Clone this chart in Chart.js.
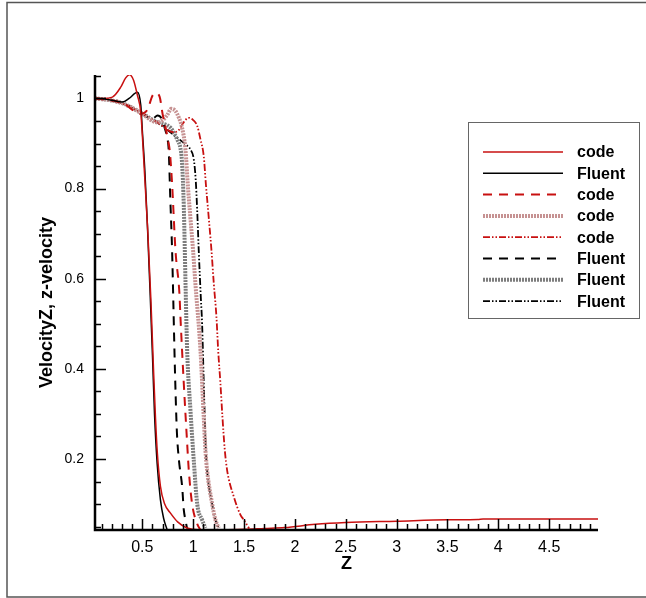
<!DOCTYPE html>
<html>
<head>
<meta charset="utf-8">
<script src="https://cdn.jsdelivr.net/npm/chart.js@4/dist/chart.umd.min.js"></script>
<style>
  html, body { margin: 0; padding: 0; background: #fff; }
  #wrap { width: 646px; height: 598px; position: relative; }
</style>
</head>
<body>
<div id="wrap"><canvas id="velChart" width="646" height="598"></canvas></div>
<script>
// axis ticks
const xTicks = [0.5, 1, 1.5, 2, 2.5, 3, 3.5, 4, 4.5];
const yTicks = [0.2, 0.4, 0.6, 0.8, 1];

// series: Z position and velocity
const codeSolidZ = [0.035, 0.108, 0.206, 0.288, 0.335, 0.375, 0.415, 0.452, 0.485, 0.50, 0.52, 0.555, 0.585, 0.61, 0.63, 0.648, 0.678, 0.72, 0.777, 0.85, 0.94, 1.05, 1.3, 1.5, 1.7, 1.9, 2.2, 2.5, 3.0, 3.5, 3.8, 3.85, 4.98];
const codeSolidV = [1.0, 1.0, 1.003, 1.025, 1.045, 1.053, 1.04, 1.007, 0.97, 0.92, 0.84, 0.70, 0.55, 0.40, 0.29, 0.213, 0.14, 0.10, 0.08, 0.06, 0.047, 0.043, 0.043, 0.044, 0.046, 0.048, 0.055, 0.059, 0.062, 0.065, 0.066, 0.067, 0.067];

const fluentSolidZ = [0.035, 0.076, 0.2, 0.305, 0.37, 0.452, 0.485, 0.50, 0.525, 0.55, 0.575, 0.60, 0.62, 0.646, 0.678, 0.71, 0.744];
const fluentSolidV = [1.0, 1.0, 0.996, 0.992, 1.0, 1.014, 0.985, 0.93, 0.84, 0.72, 0.58, 0.43, 0.30, 0.19, 0.11, 0.068, 0.043];

const codeDashZ = [0.035, 0.19, 0.32, 0.48, 0.55, 0.60, 0.63, 0.67, 0.70, 0.73, 0.75, 0.77, 0.793, 0.826, 0.865, 0.875, 0.908, 0.941, 0.957, 0.99, 1.04, 1.07];
const codeDashV = [1.0, 0.996, 0.988, 0.966, 0.975, 1.006, 1.012, 1.004, 0.965, 0.935, 0.91, 0.884, 0.81, 0.663, 0.567, 0.515, 0.367, 0.235, 0.175, 0.10, 0.056, 0.043];

const codeThickZ = [0.035, 0.19, 0.32, 0.48, 0.646, 0.70, 0.744, 0.785, 0.826, 0.858, 0.89, 0.924, 0.95, 0.973, 1.0, 1.022, 1.072, 1.104, 1.121, 1.137, 1.187, 1.219, 1.252];
const codeThickV = [1.0, 0.996, 0.988, 0.969, 0.947, 0.952, 0.963, 0.977, 0.972, 0.958, 0.936, 0.887, 0.80, 0.735, 0.66, 0.589, 0.441, 0.293, 0.219, 0.175, 0.10, 0.065, 0.047];

const codeDashDotZ = [0.035, 0.19, 0.32, 0.48, 0.646, 0.81, 0.86, 0.90, 0.955, 1.0, 1.04, 1.072, 1.104, 1.125, 1.153, 1.18, 1.203, 1.229, 1.246, 1.268, 1.288, 1.311, 1.334, 1.40, 1.465, 1.498, 1.55];
const codeDashDotV = [1.0, 0.996, 0.988, 0.969, 0.947, 0.925, 0.93, 0.945, 0.957, 0.952, 0.939, 0.909, 0.872, 0.81, 0.736, 0.663, 0.589, 0.515, 0.441, 0.368, 0.293, 0.22, 0.175, 0.116, 0.076, 0.065, 0.046];

const fluentDashZ = [0.035, 0.19, 0.32, 0.48, 0.60, 0.65, 0.69, 0.72, 0.744, 0.76, 0.775, 0.793, 0.805, 0.816, 0.828, 0.84, 0.859, 0.892, 0.908, 0.924, 0.94];
const fluentDashV = [1.0, 0.996, 0.988, 0.969, 0.955, 0.962, 0.955, 0.935, 0.913, 0.884, 0.78, 0.662, 0.55, 0.441, 0.34, 0.26, 0.20, 0.138, 0.087, 0.065, 0.046];

const fluentThickZ = [0.035, 0.19, 0.32, 0.48, 0.646, 0.777, 0.843, 0.875, 0.89, 0.908, 0.925, 0.941, 0.973, 0.99, 1.006, 1.04, 1.088, 1.12];
const fluentThickV = [1.0, 0.996, 0.988, 0.969, 0.947, 0.935, 0.909, 0.889, 0.86, 0.76, 0.589, 0.441, 0.31, 0.25, 0.197, 0.10, 0.065, 0.047];

const fluentDashDotZ = [0.035, 0.19, 0.32, 0.48, 0.646, 0.843, 0.924, 0.973, 1.006, 1.025, 1.04, 1.055, 1.075, 1.088, 1.104, 1.115, 1.125, 1.137, 1.187, 1.219, 1.252];
const fluentDashDotV = [1.0, 0.996, 0.988, 0.969, 0.947, 0.913, 0.898, 0.887, 0.865, 0.82, 0.75, 0.662, 0.56, 0.50, 0.37, 0.286, 0.219, 0.175, 0.10, 0.065, 0.047];

const seriesLabels = ['code', 'Fluent', 'code', 'code', 'code', 'Fluent', 'Fluent', 'Fluent'];

function pts(zs, vs) {
  return zs.map((z, i) => ({ x: z, y: vs[i] }));
}

const RED = 'rgb(200, 16, 16)';
const DASH_DOT = [7, 2, 1.5, 2, 1.5, 2];

const datasets = [
  { label: seriesLabels[0], data: pts(codeSolidZ, codeSolidV), borderColor: RED, borderWidth: 1.5, borderDash: [] },
  { label: seriesLabels[1], data: pts(fluentSolidZ, fluentSolidV), borderColor: '#000', borderWidth: 1.5, borderDash: [] },
  { label: seriesLabels[2], data: pts(codeDashZ, codeDashV), borderColor: RED, borderWidth: 2, borderDash: [9, 7] },
  { label: seriesLabels[3], data: pts(codeThickZ, codeThickV), borderColor: 'rgb(198, 146, 146)', borderWidth: 4, borderDash: [2, 1] },
  { label: seriesLabels[4], data: pts(codeDashDotZ, codeDashDotV), borderColor: RED, borderWidth: 1.8, borderDash: DASH_DOT },
  { label: seriesLabels[5], data: pts(fluentDashZ, fluentDashV), borderColor: '#000', borderWidth: 2, borderDash: [9, 7] },
  { label: seriesLabels[6], data: pts(fluentThickZ, fluentThickV), borderColor: 'rgb(125, 125, 125)', borderWidth: 4, borderDash: [2, 1] },
  { label: seriesLabels[7], data: pts(fluentDashDotZ, fluentDashDotV), borderColor: '#000', borderWidth: 1.8, borderDash: DASH_DOT },
].map((d) => ({
  ...d,
  showLine: true,
  pointRadius: 0,
  fill: false,
  cubicInterpolationMode: 'monotone',
}));

// outer frame + inward ticks + axis lines + legend box
const frameAndTicks = {
  id: 'frameAndTicks',
  beforeDraw(chart) {
    const { ctx } = chart;
    ctx.save();
    ctx.strokeStyle = '#555';
    ctx.lineWidth = 1.5;
    ctx.beginPath();
    ctx.moveTo(660, 2.5);
    ctx.lineTo(7, 2.5);
    ctx.lineTo(7, 597);
    ctx.lineTo(660, 597);
    ctx.stroke();
    ctx.restore();
  },
  afterDatasetsDraw(chart) {
    const { ctx, chartArea: { left, right, top, bottom }, scales: { x, y } } = chart;
    ctx.save();
    ctx.strokeStyle = '#000';
    ctx.lineWidth = 1.5;
    ctx.beginPath();
    // x ticks (minor every 0.1)
    for (let i = 1; i < 50; i++) {
      const px = x.getPixelForValue(i / 10);
      if (px < left || px > right) continue;
      const len = i % 5 === 0 ? 11 : 6;
      ctx.moveTo(Math.round(px) + 0.5, bottom);
      ctx.lineTo(Math.round(px) + 0.5, bottom - len);
    }
    // y ticks (minor every 0.05)
    for (let i = 1; i <= 21; i++) {
      const py = y.getPixelForValue(i / 20);
      if (py < top || py > bottom) continue;
      const len = i % 4 === 0 ? 11 : 6;
      ctx.moveTo(left, Math.round(py) + 0.5);
      ctx.lineTo(left + len, Math.round(py) + 0.5);
    }
    ctx.stroke();
    ctx.lineWidth = 2.5;
    ctx.beginPath();
    ctx.moveTo(left, top);
    ctx.lineTo(left, bottom);
    ctx.lineTo(right, bottom);
    ctx.stroke();
    ctx.restore();
  },
  afterDraw(chart) {
    const { ctx } = chart;
    const bx = 468, by = 122, bw = 171, bh = 196;
    ctx.save();
    ctx.fillStyle = '#fff';
    ctx.fillRect(bx, by, bw, bh);
    ctx.strokeStyle = '#666';
    ctx.lineWidth = 1;
    ctx.strokeRect(bx + 0.5, by + 0.5, bw, bh);
    ctx.font = 'bold 16px "Liberation Sans", Arial, sans-serif';
    ctx.textBaseline = 'middle';
    ctx.fillStyle = '#000';
    chart.data.datasets.forEach((ds, i) => {
      const ry = by + 30 + i * 21.3;
      ctx.strokeStyle = ds.borderColor;
      ctx.lineWidth = ds.borderWidth;
      ctx.setLineDash(ds.borderDash || []);
      ctx.beginPath();
      ctx.moveTo(483, ry);
      ctx.lineTo(563, ry);
      ctx.stroke();
      ctx.setLineDash([]);
      ctx.fillText(ds.label, 577, ry + 1);
    });
    ctx.restore();
  },
};

const fmt = (v) => String(Math.round(v * 100) / 100);

new Chart(document.getElementById('velChart'), {
  type: 'scatter',
  data: { datasets },
  options: {
    responsive: false,
    animation: false,
    layout: { padding: { left: 0, top: 75, right: 48, bottom: 0 } },
    plugins: { legend: { display: false }, tooltip: { enabled: false } },
    scales: {
      x: {
        type: 'linear',
        min: 0.035,
        max: 4.98,
        grid: { display: false, drawTicks: false },
        border: { display: false },
        afterBuildTicks: (s) => { s.ticks = xTicks.map((v) => ({ value: v })); },
        afterFit: (s) => { s.height = 68; },
        ticks: {
          callback: fmt,
          color: '#000',
          padding: 8,
          maxRotation: 0,
          autoSkip: false,
          font: { family: '"Liberation Sans", Arial, sans-serif', size: 16 },
        },
        title: {
          display: true,
          text: 'Z',
          color: '#000',
          padding: { top: 0, bottom: 23 },
          font: { family: '"Liberation Sans", Arial, sans-serif', size: 18, weight: 'bold' },
        },
      },
      y: {
        type: 'linear',
        min: 0.0425,
        max: 1.052,
        grid: { display: false, drawTicks: false },
        border: { display: false },
        afterBuildTicks: (s) => { s.ticks = yTicks.map((v) => ({ value: v })); },
        afterFit: (s) => { s.width = 95; },
        ticks: {
          callback: fmt,
          color: '#000',
          padding: 11,
          autoSkip: false,
          font: { family: '"Liberation Sans", Arial, sans-serif', size: 14 },
        },
        title: {
          display: true,
          text: 'VelocityZ, z-velocity',
          color: '#000',
          padding: { top: 36 },
          font: { family: '"Liberation Sans", Arial, sans-serif', size: 18, weight: 'bold' },
        },
      },
    },
  },
  plugins: [frameAndTicks],
});
</script>
</body>
</html>
